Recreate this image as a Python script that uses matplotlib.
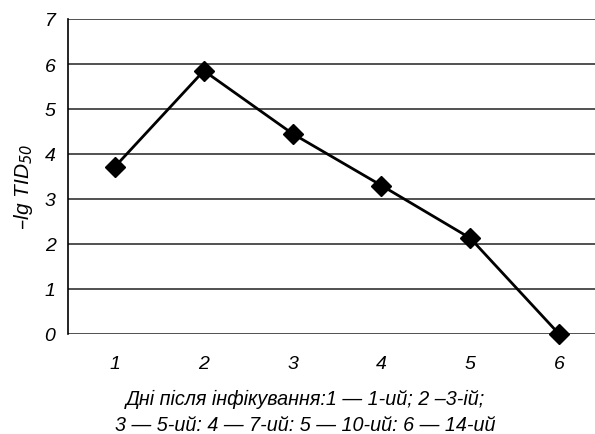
import matplotlib
matplotlib.use("Agg")
import matplotlib.pyplot as plt

days = [1, 2, 3, 4, 5, 6]
lg_tid50 = [3.72, 5.85, 4.45, 3.30, 2.13, 0.0]
yticks = [0, 1, 2, 3, 4, 5, 6, 7]

plt.rcParams['font.family'] = ['Liberation Sans', 'DejaVu Sans']
plt.rcParams['font.style'] = 'italic'

fig = plt.figure(figsize=(5.95, 4.35), dpi=100)
ax = fig.add_axes([68/595, 1 - 335/435, (595-68)/595, (335-20)/435])

for t in yticks:
    ax.axhline(t, color="#222222", lw=1.1, zorder=1)

ax.plot(days, lg_tid50, color="black", lw=2, marker="D", markersize=10,
        markerfacecolor="black", zorder=3, clip_on=False)

ax.set_xlim(0.47, 6.405)
ax.set_ylim(0, 7)
ax.set_yticks(yticks)
ax.set_xticks(days)
ax.tick_params(length=0, labelsize=14)
ax.tick_params(axis="x", pad=15)
ax.tick_params(axis="y", pad=9)
for s in ["top", "right", "bottom"]:
    ax.spines[s].set_visible(False)
ax.spines["left"].set_linewidth(1.2)

ax.set_ylabel("–lg TID$_{50}$", fontsize=15)
ax.yaxis.set_label_coords(-33/527, 0.47)
ax.set_xlabel("Дні після інфікування:1 — 1-ий; 2 –3-ій;\n3 — 5-ий: 4 — 7-ий: 5 — 10-ий: 6 — 14-ий",
              fontsize=14.2, linespacing=1.45)
ax.xaxis.set_label_coords((305-68)/(595-68), -55/315)

fig.savefig("out.png", dpi=100)
